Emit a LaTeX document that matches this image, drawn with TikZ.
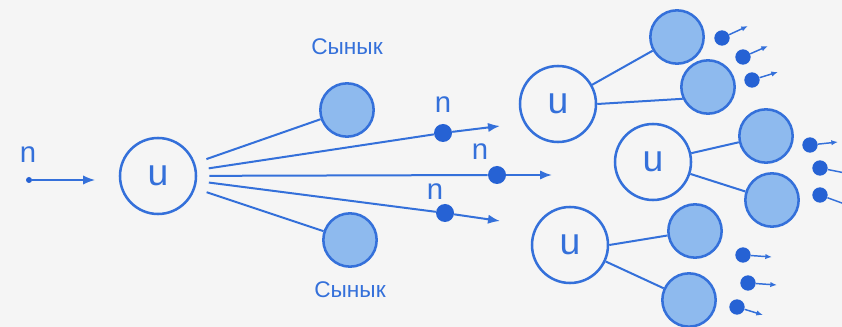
\documentclass[tikz,border=0pt]{standalone}
\usepackage{fontspec}
\setmainfont{Liberation Sans}
\usetikzlibrary{arrows.meta}
\definecolor{AzulTrazo}{RGB}{52,112,218}
\definecolor{AzulFragmento}{RGB}{142,186,238}
\definecolor{AzulNeutron}{RGB}{38,98,212}
\definecolor{FondoGris}{RGB}{245,245,245}

\begin{document}
\begin{tikzpicture}[x=0.75pt,y=-0.75pt,>={Latex[length=9pt,width=7pt]},
  nucleo/.style={circle,draw=AzulTrazo,line width=1.9pt,minimum size=57pt,inner sep=0pt,
    text=AzulTrazo,font=\fontsize{28}{28}\selectfont},
  frag/.style={circle,draw=AzulTrazo,line width=1.9pt,fill=AzulFragmento,minimum size=40pt,inner sep=0pt},
  neutron/.style={circle,fill=AzulNeutron,minimum size=13.5pt,inner sep=0pt},
  chico/.style={circle,fill=AzulNeutron,minimum size=11.5pt,inner sep=0pt},
  punto/.style={circle,fill=AzulNeutron,minimum size=4.5pt,inner sep=0pt},
  etiq/.style={text=AzulTrazo,font=\fontsize{22}{22}\selectfont},
  rotulo/.style={text=AzulTrazo,font=\fontsize{17}{17}\selectfont},
  traza/.style={draw=AzulTrazo,line width=1.5pt},
  rayo/.style={draw=AzulTrazo,line width=1.1pt,-{Latex[length=5pt,width=4pt]}}]
  \fill[FondoGris] (0,0) rectangle (842,327);
  \useasboundingbox (0,0) rectangle (842,327);
  \node[punto] (n0) at (29,180) {};
  \coordinate (n0f) at (95,180);
  \node[etiq] (ln0) at (28,155) {n};
  \draw[traza,line width=1.1pt,->] (n0) -- (n0f);
  \node[nucleo] (U0) at (158,176) {u};
  \node[frag] (FA) at (347,110) {};
  \node[frag] (FB) at (350,240) {};
  \node[rotulo] (lFA) at (347,47) {Сынык};
  \node[rotulo] (lFB) at (350,290) {Сынык};
  \draw[traza,shorten <=9pt] (U0) -- (FA);
  \draw[traza,shorten <=9pt] (U0) -- (FB);
  \node[neutron] (nA) at (443,133) {};
  \node[neutron] (nB) at (497,175) {};
  \node[neutron] (nC) at (445,213) {};
  \coordinate (nAf) at (500,126);
  \coordinate (nBf) at (552,175);
  \coordinate (nCf) at (500,221);
  \node[etiq] (lnA) at (443,105) {n};
  \node[etiq] (lnB) at (480,152) {n};
  \node[etiq] (lnC) at (435,192) {n};
  \draw[traza,shorten <=9pt] (U0) -- (nA);
  \draw[traza,shorten <=9pt] (U0) -- (nB);
  \draw[traza,shorten <=9pt] (U0) -- (nC);
  \draw[traza,->] (nA) -- (nAf);
  \draw[traza,->] (nB) -- (nBf);
  \draw[traza,->] (nC) -- (nCf);
  \node[nucleo] (U1) at (558,104) {u};
  \node[nucleo] (U2) at (653,162) {u};
  \node[nucleo] (U3) at (570,245) {u};
  \node[frag] (F1) at (677,37) {};
  \node[frag] (F2) at (708,87) {};
  \node[frag] (F3) at (766,136) {};
  \node[frag] (F4) at (772,200) {};
  \node[frag] (F5) at (695,231) {};
  \node[frag] (F6) at (689,300) {};
  \draw[traza] (U1) -- (F1);
  \draw[traza] (U1.east) -- (F2.205);
  \draw[traza] (U2) -- (F3);
  \draw[traza] (U2) -- (F4);
  \draw[traza] (U3.east) -- (F5);
  \draw[traza] (U3) -- (F6);
  \node[chico] (s1) at (722,38) {};
  \node[chico] (s2) at (743,57) {};
  \node[chico] (s3) at (752,80) {};
  \node[chico] (s4) at (810,145) {};
  \node[chico] (s5) at (820,168) {};
  \node[chico] (s6) at (820,195) {};
  \node[chico] (s7) at (743,255) {};
  \node[chico] (s8) at (748,283) {};
  \node[chico] (s9) at (737,307) {};
  \coordinate (s1f) at (748,26);
  \coordinate (s2f) at (768,46);
  \coordinate (s3f) at (778,72);
  \coordinate (s4f) at (838,142);
  \coordinate (s5f) at (850,174);
  \coordinate (s6f) at (850,206);
  \coordinate (s7f) at (772,257);
  \coordinate (s8f) at (777,285);
  \coordinate (s9f) at (763,315);
  \draw[rayo] (s1) -- (s1f);
  \draw[rayo] (s2) -- (s2f);
  \draw[rayo] (s3) -- (s3f);
  \draw[rayo] (s4) -- (s4f);
  \draw[rayo] (s5) -- (s5f);
  \draw[rayo] (s6) -- (s6f);
  \draw[rayo] (s7) -- (s7f);
  \draw[rayo] (s8) -- (s8f);
  \draw[rayo] (s9) -- (s9f);
\end{tikzpicture}
\end{document}
